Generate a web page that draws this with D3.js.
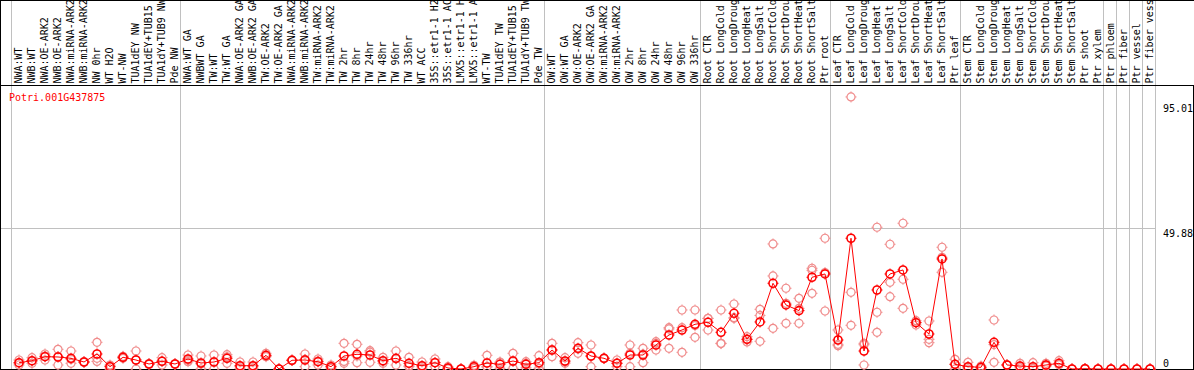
<!DOCTYPE html>
<html>
<head>
<meta charset="utf-8">
<script src="https://cdn.jsdelivr.net/npm/d3@7"></script>
<style>
  body { margin: 0; background: #fff; }
  svg { display: block; }
  text { font-family: "DejaVu Sans Mono", monospace; font-size: 10px; }
</style>
</head>
<body>
<svg id="canvas"></svg>
<script>
let geneId = "Potri.001G437875";

// labels as they show in the header (the long ones are cut at the top edge)
let labels = [
  "NWA:WT", "NWB:WT", "NWA:OE-ARK2", "NWB:OE-ARK2", "NWA:miRNA-ARK2", "NWB:miRNA-ARK2",
  "NW 0hr", "WT H2O", "WT-NW", "TUA1dEY NW", "TUA1dEY+TUB15", "TUA1dY+TUB9 NW", "Pde NW",
  "NWA:WT GA", "NWBWT GA", "TW:WT", "TW:WT GA", "NWA:OE-ARK2 GA", "NWB:OE-ARK2 GA",
  "TW:OE-ARK2", "TW:OE-ARK2 GA", "NWA:miRNA-ARK2", "NWB:miRNA-ARK2", "TW:miRNA-ARK2",
  "TW:miRNA-ARK2", "TW 2hr", "TW 8hr", "TW 24hr", "TW 48hr", "TW 96hr", "TW 336hr",
  "WT ACC", "35S::etr1-1 H2", "35S::etr1-1 AC", "LMX5::etr1-1 H", "LMX5::etr1-1 A",
  "WT-TW", "TUA1dEY TW", "TUA1dEY+TUB15", "TUA1dY+TUB9 TW", "Pde TW",
  "OW:WT", "OW:WT GA", "OW:OE-ARK2", "OW:OE-ARK2 GA", "OW:miRNA-ARK2", "OW:miRNA-ARK2",
  "OW 2hr", "OW 8hr", "OW 24hr", "OW 48hr", "OW 96hr", "OW 336hr",
  "Root CTR", "Root LongCold", "Root LongDroug", "Root LongHeat", "Root LongSalt",
  "Root ShortCold", "Root ShortDrou", "Root ShortHeat", "Root ShortSalt", "Ptr root",
  "Leaf CTR", "Leaf LongCold", "Leaf LongDroug", "Leaf LongHeat", "Leaf LongSalt",
  "Leaf ShortCold", "Leaf ShortDrou", "Leaf ShortHeat", "Leaf ShortSalt", "Ptr leaf",
  "Stem CTR", "Stem LongCold", "Stem LongDroug", "Stem LongHeat", "Stem LongSalt",
  "Stem ShortCold", "Stem ShortDrou", "Stem ShortHeat", "Stem ShortSalt", "Ptr shoot",
  "Ptr xylem", "Ptr phloem", "Ptr fiber", "Ptr vessel", "Ptr fiber vess"
];

// column index where each group starts (plus the end)
let separators = [0, 13, 41, 53, 63, 73, 84, 85, 86, 87, 88];

let means = [
  2.23, 2.94, 4.36, 4.26, 3.79, 2.48, 5.32, 0.82, 4.15, 3.19, 1.77, 2.73, 1.77,
  3.55, 2.13, 2.48, 3.79, 1.17, 1.17, 4.86, 0, 3.09, 3.19, 2.59, 0.82, 4.61, 5.21, 4.96,
  2.94, 3.79, 2.02, 1.17, 2.23, 0.35, 0, 0.82, 2.13, 1.67, 2.84, 1.67, 2.23,
  6.74, 2.84, 7.34, 4.61, 3.79, 2.02, 4.96, 4.96, 8.51, 12.06, 13.83, 15.85,
  16.56, 13.01, 19.75, 10.53, 16.67, 30.39, 22.70, 20.7, 32.52, 33.69,
  10.28, 46.35, 6.38, 28.01, 33.69, 35.11, 16.42, 12.41, 39.01, 1.67,
  0.82, 0.60, 9.47, 1.42, 1.06, 0.82, 1.42, 2.02, 0, 0.1, 0,
  0, 0, 0, 0
];

let rep1 = [
  3.19, 4.01, 5.32, 6.99, 6.38, 2.48, 9.47, 1.4, 4.15, 6.38, 1.77, 4.01, 1.77,
  4.96, 4.61, 4.96, 5.07, 2.48, 2.48, 5.57, 0, 3.09, 5.32, 3.55, 1.42, 9.11, 8.76, 6.49,
  4.15, 6.38, 4.15, 2.48, 3.55, 0.82, 0, 1.31, 4.86, 2.48, 5.57, 2.59, 4.72,
  9.11, 4.01, 9.33, 8.51, 3.79, 3.19, 8.51, 7.34, 9.68, 14.65, 20.92, 20.92,
  17.98, 20.92, 23.05, 10.53, 21.17, 44.33, 28.62, 25.07, 35.71, 46.35,
  13.83, 96.45, 9.11, 50.25, 44.22, 51.67, 17.13, 17.02, 43.16, 3.44,
  2.38, 1.06, 17.38, 1.42, 2.02, 2.23, 2.02, 2.94, 0, 0.1, 0,
  0, 0, 0, 0
];

let rep2 = [
  1.42, 2.02, 3.19, 1.42, 2.02, 2.6, 3.8, 0, 3.79, 0, 1.6, 1.42, 1.7,
  2.59, 0, 0, 2.02, 0.82, 0.82, 4.36, 0, 3.0, 0.82, 1.42, 0.25, 2.02, 2.23, 2.38,
  2.02, 1.42, 0.82, 0.25, 0.82, 0.1, 0, 0.25, 0.82, 0.25, 0.25, 2.02, 0.25,
  4.36, 2.02, 5.57, 0.82, 3.7, 0.82, 0.82, 2.23, 6.74, 7.34, 5.92, 11.24,
  13.83, 9.11, 17.98, 11.45, 9.82, 32.98, 16.21, 16.21, 26.84, 20.57,
  8.26, 27.20, 1.42, 20.11, 30.74, 31.81, 15.60, 10.53, 34.29, 1.67,
  0.60, 0.6, 2.38, 1.5, 0.8, 0.2, 1.2, 1.6, 0, 0.1, 0,
  0, 0, 0, 0
];

let rep3 = [
  2.1, 2.8, 4.6, 4.36, 3.44, 2.36, 2.7, 1.0, 4.5, 3.2, 1.9, 2.8, 1.85,
  3.1, 1.8, 2.5, 4.3, 0.2, 0.2, 4.65, 0, 3.2, 3.4, 2.8, 0.8, 2.7, 4.6, 6.0,
  2.65, 3.6, 1.1, 0.8, 2.3, 0.1, 0, 0.9, 0.7, 2.3, 2.7, 0.4, 1.7,
  6.75, 2.5, 7.1, 4.5, 3.9, 2.05, 5.55, 5.3, 9.1, 14.2, 14.65, 15.4,
  17.9, 9.0, 18.2, 9.6, 19.0, 14.43, 23.3, 21.5, 35.0, 34.2,
  8.75, 15.50, 8.6, 13.01, 25.64, 21.52, 16.5, 9.33, 39.6, 0,
  0, 0.15, 8.65, 1.35, 0.4, 0, 1.0, 1.5, 0, 0.1, 0,
  0, 0, 0, 0
];

let yTicks = [0, 49.88, 95.01];
let gridTicks = [49.88];

let width = 1194,
  height = 370,
  headerBottom = 85,
  plotBottom = 369;

let canvas = d3.select("#canvas").attr("width", width).attr("height", height);

let xScale = d3
  .scaleBand()
  .domain(d3.range(labels.length))
  .range([11, 1155])
  .paddingInner(0)
  .paddingOuter(0);

let yScale = d3.scaleLinear().domain([0, 95.01]).range([plotBottom, 101]);

let colX = (i) => xScale(i) + 8;

let drawFrame = () => {
  // group separators run the full height
  canvas
    .selectAll(".sep")
    .data(separators)
    .enter()
    .append("line")
    .attr("class", "sep")
    .attr("x1", (k) => (k < labels.length ? xScale(k) : xScale.range()[1]) + 0.5)
    .attr("x2", (k) => (k < labels.length ? xScale(k) : xScale.range()[1]) + 0.5)
    .attr("y1", 0)
    .attr("y2", plotBottom)
    .attr("stroke", "#c0c0c0")
    .attr("stroke-width", 1);

  canvas
    .selectAll(".grid")
    .data(gridTicks)
    .enter()
    .append("line")
    .attr("class", "grid")
    .attr("x1", 1)
    .attr("x2", xScale.range()[1])
    .attr("y1", (d) => Math.round(yScale(d)) + 0.5)
    .attr("y2", (d) => Math.round(yScale(d)) + 0.5)
    .attr("stroke", "#c0c0c0")
    .attr("stroke-width", 1);

  let frame = canvas.append("g").attr("stroke", "#000").attr("stroke-width", 1);
  frame.append("line").attr("x1", 0).attr("x2", width).attr("y1", 0.5).attr("y2", 0.5);
  frame.append("line").attr("x1", 0).attr("x2", width).attr("y1", headerBottom + 0.5).attr("y2", headerBottom + 0.5);
  frame.append("line").attr("x1", 0).attr("x2", width).attr("y1", plotBottom + 0.5).attr("y2", plotBottom + 0.5);
  frame.append("line").attr("x1", 0.5).attr("x2", 0.5).attr("y1", 0).attr("y2", height);
  frame.append("line").attr("x1", width - 0.5).attr("x2", width - 0.5).attr("y1", headerBottom).attr("y2", height);
};

let drawLabels = () => {
  canvas
    .selectAll(".label")
    .data(labels)
    .enter()
    .append("text")
    .attr("class", "label")
    .attr("transform", (d, i) => "translate(" + (xScale(i) + 11) + "," + 83.5 + ") rotate(-90)")
    .attr("font-size", "9.7px")
    .attr("fill", "#000")
    .text((d) => d);

  canvas
    .append("text")
    .attr("x", 9)
    .attr("y", 101)
    .attr("fill", "#ff0000")
    .text(geneId);
};

let drawAxis = () => {
  let labelShift = { 0: -6, 49.88: 4.5, 95.01: 7.5 };
  let yAxis = d3
    .axisRight(yScale)
    .tickValues(yTicks)
    .tickSize(0)
    .tickPadding(0)
    .tickFormat((d) => (d === 0 ? "0" : d3.format(".2f")(d)));

  let g = canvas.append("g").attr("transform", "translate(1163, 0)").call(yAxis);
  g.select(".domain").remove();
  g.selectAll("text")
    .attr("font-family", "DejaVu Sans Mono, monospace")
    .attr("font-size", 10)
    .attr("fill", "#000")
    .attr("y", (d) => labelShift[d]);
};

let marker = (sel, color, sw) => {
  sel.append("circle").attr("r", 4).attr("fill", "none").attr("stroke", color).attr("stroke-width", sw);
  [[0, -1], [0, 1], [-1, 0], [1, 0]].forEach((v) => {
    sel
      .append("line")
      .attr("x1", v[0] * 4)
      .attr("y1", v[1] * 4)
      .attr("x2", v[0] * 5.5)
      .attr("y2", v[1] * 5.5)
      .attr("stroke", color)
      .attr("stroke-width", 1);
  });
};

let drawPoints = () => {
  let reps = [];
  [rep1, rep2, rep3].forEach((arr) => {
    arr.forEach((v, i) => reps.push({ i: i, v: v }));
  });

  canvas
    .selectAll(".rep")
    .data(reps)
    .enter()
    .append("g")
    .attr("class", "rep")
    .attr("transform", (d) => "translate(" + colX(d.i) + "," + yScale(d.v) + ")")
    .call(marker, "#f08c8c", 1.2);

  let line = d3
    .line()
    .x((d, i) => colX(i))
    .y((d) => yScale(d));

  canvas
    .append("path")
    .datum(means)
    .attr("d", line)
    .attr("fill", "none")
    .attr("stroke", "#ff0000")
    .attr("stroke-width", 1);

  canvas
    .selectAll(".mean")
    .data(means)
    .enter()
    .append("g")
    .attr("class", "mean")
    .attr("transform", (d, i) => "translate(" + colX(i) + "," + yScale(d) + ")")
    .call(marker, "#ff0000", 1.6);
};

drawFrame();
drawLabels();
drawAxis();
drawPoints();
</script>
</body>
</html>
